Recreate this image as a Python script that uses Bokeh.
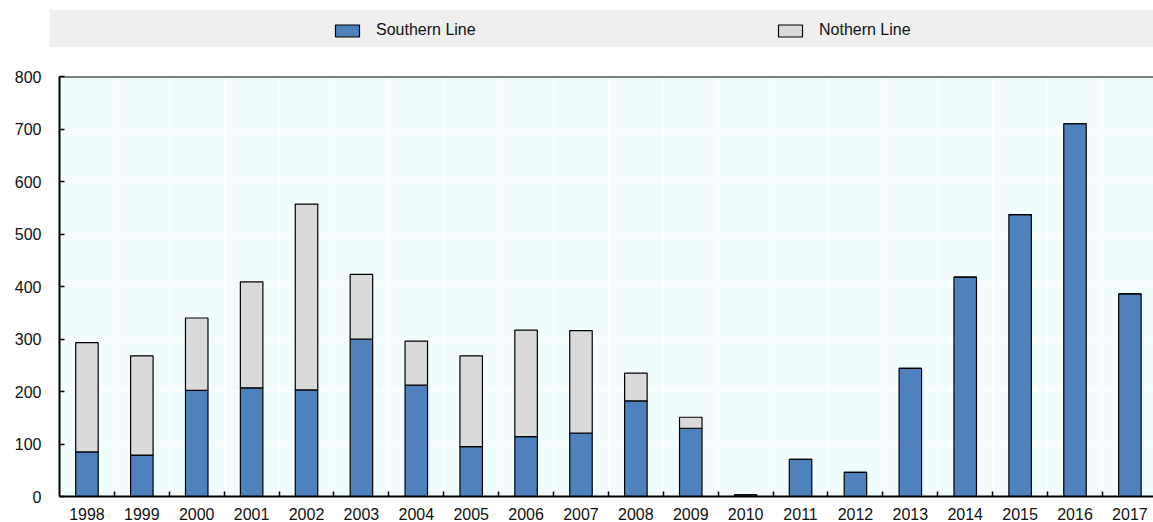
import numpy as np
from bokeh.plotting import figure
from bokeh.models import (ColumnDataSource, Range1d, FixedTicker, Span, Legend, LegendItem)
from bokeh.embed import file_html
from bokeh.resources import INLINE

# ---- data ----
years = [1998, 1999, 2000, 2001, 2002, 2003, 2004, 2005, 2006, 2007,
         2008, 2009, 2010, 2011, 2012, 2013, 2014, 2015, 2016, 2017]
southern = [85, 79, 202, 207, 203, 300, 212, 95, 114, 121,
            182, 130, 3, 71, 46, 244, 418, 537, 710, 386]
northern = [208, 189, 138, 202, 354, 123, 84, 173, 203, 195,
            53, 21, 0, 0, 0, 0, 0, 0, 0, 0]
series_names = ["Southern Line", "Nothern Line"]
y_ticks = [0, 100, 200, 300, 400, 500, 600, 700, 800]

# ---- style ----
FONT = "Liberation Sans"
FS = "16px"
BLUE = "#4f81bd"
GREY = "#dadada"
PLOT_BG = "#f2fefe"
BAND_BG = "#efefef"
TXT = "#111111"

src = ColumnDataSource(dict(year=years, southern=southern, northern=northern))

boundaries = [y + 0.5 for y in years[:-1]]

# ---- legend band ----
lg = figure(width=1153, height=47, x_range=Range1d(0, 1), y_range=Range1d(0, 1),
            output_backend="svg", toolbar_location=None,
            background_fill_color=BAND_BG, border_fill_color="white",
            min_border_left=49, min_border_right=0,
            min_border_top=9, min_border_bottom=0,
            x_axis_location=None, y_axis_location=None)
lg.outline_line_color = None
lg.grid.visible = False
# hidden copies of the bar series: only their legend swatches are shown
r1, r2 = lg.vbar_stack(["southern", "northern"], x="year", width=0.41, source=src,
                       fill_color=[BLUE, GREY], line_color="black", line_width=1.2)
r1.visible = False
r2.visible = False
legend = Legend(items=[LegendItem(label=series_names[0], renderers=[r1]),
                       LegendItem(label=series_names[1], renderers=[r2])],
                location=(283, 8), orientation="horizontal",
                glyph_width=30, glyph_height=15, label_standoff=14,
                spacing=289, label_width=110, padding=0, margin=0,
                background_fill_alpha=0, border_line_color=None,
                inactive_fill_alpha=0,
                label_text_font=FONT, label_text_font_size=FS,
                label_text_color=TXT)
lg.add_layout(legend)

# ---- main chart ----
p = figure(width=1153, height=475,
           x_range=Range1d(years[0] - 0.5, years[-1] + 0.43),
           y_range=Range1d(y_ticks[0], y_ticks[-1]),
           output_backend="svg", toolbar_location=None,
           background_fill_color=PLOT_BG, border_fill_color="white",
           min_border_left=59, min_border_right=0,
           min_border_top=29, min_border_bottom=25)
p.outline_line_color = None

p.vbar_stack(["southern", "northern"], x="year", width=0.41, source=src,
             fill_color=[BLUE, GREY], line_color="black", line_width=1.2)

# grid
p.xgrid.ticker = FixedTicker(ticks=boundaries)
p.xgrid.grid_line_color = "white"
p.xgrid.grid_line_width = 1
p.ygrid.ticker = FixedTicker(ticks=y_ticks)
p.ygrid.grid_line_color = "white"
p.ygrid.grid_line_width = 1

# x axis
xa = p.xaxis[0]
xa.ticker = FixedTicker(ticks=years, minor_ticks=boundaries)
xa.major_label_overrides = {y: str(y) for y in years}
xa.major_tick_line_color = None
xa.minor_tick_line_color = "black"
xa.minor_tick_line_width = 1.5
xa.minor_tick_in = 5
xa.minor_tick_out = 0
xa.axis_line_color = "black"
xa.axis_line_width = 2
xa.major_label_standoff = 5
xa.major_label_text_font = FONT
xa.major_label_text_font_size = FS
xa.major_label_text_color = TXT

# y axis
ya = p.yaxis[0]
ya.ticker = FixedTicker(ticks=y_ticks)
ya.major_tick_line_color = "black"
ya.major_tick_line_width = 1.5
ya.major_tick_in = 5
ya.major_tick_out = 0
ya.minor_tick_line_color = None
ya.axis_line_color = "black"
ya.axis_line_width = 2
ya.major_label_standoff = 18
ya.major_label_text_font = FONT
ya.major_label_text_font_size = FS
ya.major_label_text_color = TXT

# top border of plot area
p.add_layout(Span(location=y_ticks[-1], dimension="width",
                  line_color="black", line_width=2))

open("out.html", "w").write(file_html([lg, p], INLINE))
